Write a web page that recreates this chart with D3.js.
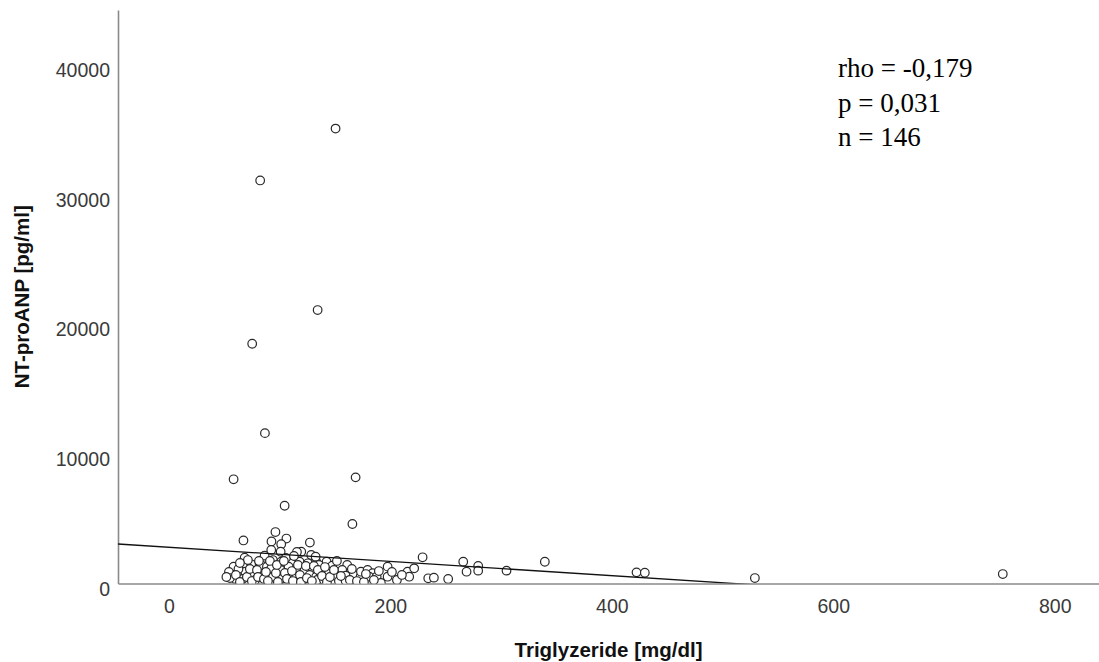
<!DOCTYPE html>
<html>
<head>
<meta charset="utf-8">
<script src="https://cdn.jsdelivr.net/npm/d3@7"></script>
<style>
  html, body { margin: 0; padding: 0; background: #fff; }
  svg { display: block; }
</style>
</head>
<body>
<svg id="chart" width="1099" height="662"></svg>
<script>
// Triglycerides (mg/dl) per patient
const triglyzeride = [
  150.5, 82.4, 134.3, 75.2, 86.7, 58.4, 168.6, 104.5, 165.7,
  67.3, 96.2, 106.1, 92.6, 101.4, 127.3,
  68.4, 86.4, 58.4, 74.3, 83.3, 56.9, 68.9, 76.5, 59.9, 66.6, 77.9, 84.0, 88.5, 62.8, 71.3,
  100.9, 119.5, 128.5, 92.4, 93.9, 101.4, 110.4, 118.0, 125.5, 133.0,
  92.4, 100.9, 108.1, 115.0, 122.5, 130.0, 93.9, 101.4, 109.0, 115.0, 121.0, 127.1, 133.0,
  132.5, 142.4, 147.5, 135.5, 161.0, 156.5, 137.0, 144.5, 150.5, 159.6, 167.1, 173.1,
  133.9, 153.5, 159.6, 140.0,
  173.4, 179.4, 183.9, 197.5, 180.9, 187.6, 197.5, 191.4, 215.5, 217.0, 221.5, 229.1,
  234.2, 239.3, 252.2, 265.8, 268.8, 279.3, 279.3, 304.9, 339.5, 422.3, 429.8, 529.2, 753.1,
  115.6, 91.2,
  54.2, 55.1, 60.5, 64.1, 64.1, 70.4, 73.1, 74.9, 79.5, 80.4, 81.3, 85.8, 87.6, 89.4,
  96.6, 97.5, 98.4, 104.7, 105.7, 106.6, 111.1, 112.0, 112.9, 116.5, 118.3, 119.2,
  123.7, 124.6, 129.1, 130.9, 134.5, 138.2, 140.9, 142.7, 145.4, 149.0, 151.7, 155.3,
  163.4, 165.2, 169.8, 176.1, 177.9, 185.1, 189.6, 201.4, 205.9, 210.4,
  51.9, 103.8
];

// NT-proANP (pg/ml) for the same patients
const ntProANP = [
  35100, 31100, 21100, 18500, 11600, 8040, 8190, 6000, 4590,
  3320, 3970, 3470, 3240, 3030, 3160,
  1990, 2150, 1300, 1480, 1430, 660, 910, 660, 350, 350, 270, 660, 1300, 1120, 1810,
  2450, 2450, 2200, 2590, 1810, 1680, 1560, 1680, 1560, 1680,
  1170, 1040, 1300, 1040, 1040, 1040, 525, 350, 660, 525, 270, 660, 525,
  2070, 1680, 1370, 1430, 1430, 1040, 790, 910, 600, 600, 660, 525,
  270, 190, 190, 270,
  910, 1040, 790, 1300, 525, 525, 525, 40, 910, 525, 1170, 2020,
  400, 450, 350, 1680, 910, 1350, 990, 990, 1680, 860, 830, 420, 730,
  2430, 1740,
  890, 420, 660, 1580, 120, 500, 1120, 190, 1040, 500, 1740, 350, 890, 190,
  810, 1430, 120, 810, 1970, 350, 960, 190, 2120, 1430, 660, 120,
  1350, 420, 190, 1350, 1040, 580, 1270, 120, 500, 1040, 1740, 580,
  270, 1120, 190, 120, 730, 270, 960, 890, 270, 660,
  500, 1740
];

const xTicks = [0, 200, 400, 600, 800];
const yTicks = [0, 10000, 20000, 30000, 40000];
const xDomain = [-46, 840];
const yDomain = [0, 44250];

// Linear fit line: NT-proANP = fitIntercept + fitSlope * Triglyzeride
const fitIntercept = 2796;
const fitSlope = -5.48;

const statsLines = ["rho = -0,179", "p = 0,031", "n = 146"];
const xTitle = "Triglyzeride [mg/dl]";
const yTitle = "NT-proANP [pg/ml]";

const svg = d3.select("#chart");
const plot = { left: 118, right: 1099, top: 10, bottom: 583.5 };

const x = d3.scaleLinear().domain(xDomain).range([plot.left, plot.right]);
const y = d3.scaleLinear().domain(yDomain).range([plot.bottom, plot.top]);

svg.append("defs").append("clipPath").attr("id", "plotClip")
  .append("rect")
  .attr("x", plot.left).attr("y", plot.top)
  .attr("width", plot.right - plot.left).attr("height", plot.bottom - plot.top);

const tickFont = "'Liberation Sans', Arial, sans-serif";

// Axes (no tick marks, gray base lines)
const xAxis = d3.axisBottom(x).tickValues(xTicks).tickSize(0).tickPadding(16).tickFormat(d3.format("d"));
const yAxis = d3.axisLeft(y).tickValues(yTicks).tickSize(0).tickPadding(8).tickFormat(d3.format("d"));

const gx = svg.append("g").attr("transform", `translate(0,${plot.bottom})`).call(xAxis);
const gy = svg.append("g").attr("transform", `translate(${plot.left},0)`).call(yAxis);

[gx, gy].forEach(g => {
  g.select(".domain").attr("stroke", "#8a8a8a").attr("stroke-width", 1.6);
  g.selectAll("text")
    .attr("font-family", tickFont)
    .attr("font-size", 19.5)
    .attr("fill", "#3a3a3a");
});
gy.selectAll("text").attr("dy", "0.6em");

// Data points: open circles
svg.append("g").attr("clip-path", "url(#plotClip)")
  .selectAll("circle")
  .data(triglyzeride.map((t, i) => [t, ntProANP[i]]))
  .join("circle")
  .attr("cx", d => x(d[0]))
  .attr("cy", d => y(d[1]))
  .attr("r", 4.3)
  .attr("fill", "#fff")
  .attr("stroke", "#2a2a2a")
  .attr("stroke-width", 1.2);

// Fit line across the x range, clipped at the plot area
const fitX = xDomain;
svg.append("line")
  .attr("clip-path", "url(#plotClip)")
  .attr("x1", x(fitX[0])).attr("y1", y(fitIntercept + fitSlope * fitX[0]))
  .attr("x2", x(fitX[1])).attr("y2", y(fitIntercept + fitSlope * fitX[1]))
  .attr("stroke", "#111")
  .attr("stroke-width", 1.3);

// Axis titles
svg.append("text")
  .attr("x", (plot.left + plot.right) / 2)
  .attr("y", 657)
  .attr("text-anchor", "middle")
  .attr("font-family", tickFont)
  .attr("font-weight", "bold")
  .attr("font-size", 20.5)
  .attr("fill", "#111")
  .text(xTitle);

svg.append("text")
  .attr("transform", `translate(29,${(plot.top + plot.bottom) / 2}) rotate(-90)`)
  .attr("text-anchor", "middle")
  .attr("font-family", tickFont)
  .attr("font-weight", "bold")
  .attr("font-size", 20.5)
  .attr("fill", "#111")
  .text(yTitle);

// Correlation statistics
svg.append("g")
  .selectAll("text")
  .data(statsLines)
  .join("text")
  .attr("x", 838)
  .attr("y", (d, i) => 77 + i * 34.5)
  .attr("font-family", "'Liberation Serif', 'Times New Roman', serif")
  .attr("font-size", 27)
  .attr("fill", "#000")
  .text(d => d);
</script>
</body>
</html>
